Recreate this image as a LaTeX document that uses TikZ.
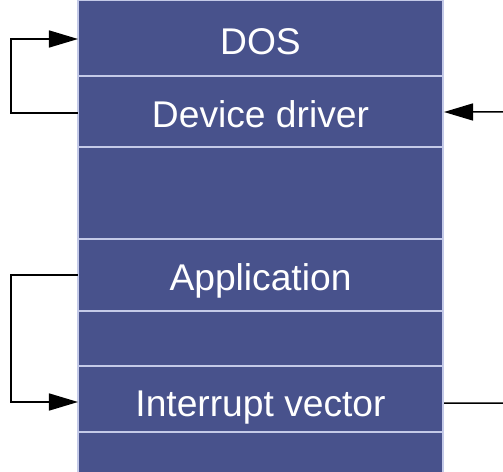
\documentclass[tikz,border=0pt]{standalone}
\usepackage{fontspec}
\setmainfont{Liberation Sans}
\usetikzlibrary{arrows.meta}
\definecolor{layerfill}{RGB}{72,82,140}
\definecolor{layeredge}{RGB}{196,202,232}
\tikzset{
  layer/.style={rectangle, fill=layerfill, draw=layeredge, line width=1.3bp,
    minimum width=365bp, inner sep=0pt, outer sep=0pt},
  layertext/.style={text=white, anchor=base, inner sep=0pt,
    font=\fontsize{37.2bp}{40bp}\selectfont},
  link/.style={draw=black, line width=1.5bp},
  bigtip/.style={-{Triangle[length=29bp,width=17bp]}}
}
\begin{document}
\begin{tikzpicture}[x=1bp,y=-1bp]
\useasboundingbox (0,0) rectangle (503,472);
% memory layers, top to bottom
\node[layer, minimum height=76bp] (dos)  at (260.5,38) {};
\node[layer, minimum height=71bp] (drv)  at (260.5,111.5) {};
\node[layer, minimum height=92bp] (gap1) at (260.5,193) {};
\node[layer, minimum height=72bp] (app)  at (260.5,275) {};
\node[layer, minimum height=55bp] (gap2) at (260.5,338.5) {};
\node[layer, minimum height=66bp] (intr) at (260.5,399) {};
\node[layer, minimum height=42bp] (low)  at (260.5,453) {};
% labels
\node[layertext] (tdos)  at (260.5,55)  {DOS};
\node[layertext] (tdrv)  at (260.5,128) {Device driver};
\node[layertext] (tapp)  at (260.5,290) {Application};
\node[layertext] (tintr) at (260.5,416) {Interrupt vector};
% connectors
\coordinate (rin)  at (503,112);
\coordinate (rout) at (503,403);
\draw[link, bigtip] ([yshift=-1.5bp]drv.west) -- ++(-67,0) |- ([yshift=-1bp]dos.west);
\draw[link, bigtip] (app.west) -- ++(-67,0) |- ([yshift=-3bp]intr.west);
\draw[link, bigtip] (rin) -- ([xshift=1bp,yshift=-0.5bp]drv.east);
\draw[link] ([xshift=1bp,yshift=-4bp]intr.east) -- (rout);
\end{tikzpicture}
\end{document}
